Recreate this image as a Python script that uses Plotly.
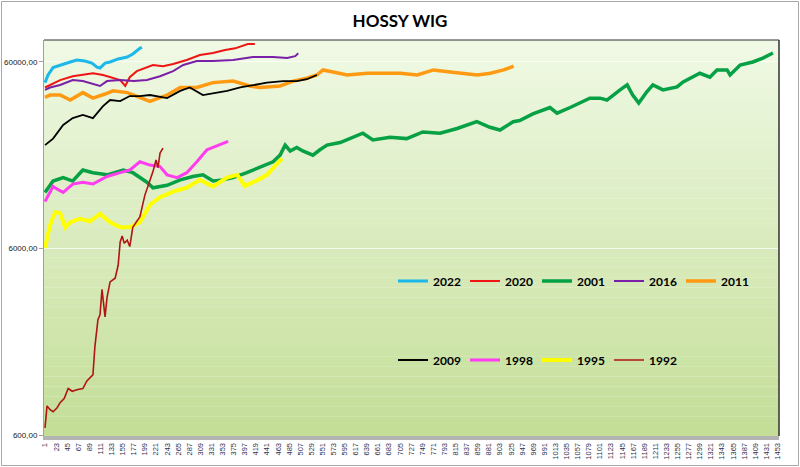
import plotly.graph_objects as go

# ---------------- data (session number, index value) ----------------
x_2022 = [1, 7, 17, 31, 51, 64, 80, 94, 104, 110, 120, 130, 146, 164, 175, 189, 193]
y_2022 = [46500, 51100, 56000, 57800, 60000, 61500, 60700, 59200, 56300, 55700, 59200, 60000, 62300, 63800, 66200, 71000, 72000]

x_2020 = [1, 11, 31, 56, 80, 96, 116, 136, 150, 160, 169, 183, 199, 215, 235, 255, 282, 308, 334, 358, 378, 393, 403, 417]
y_2020 = [43800, 45200, 48000, 50300, 51600, 52200, 51100, 49100, 48000, 44600, 49700, 53600, 55700, 57800, 57000, 58500, 61500, 65400, 67000, 69600, 71000, 73000, 74800, 74800]

x_2001 = [1, 17, 37, 56, 76, 96, 124, 156, 175, 203, 215, 243, 269, 294, 314, 334, 354, 374, 401, 427, 453, 467, 477, 487, 500,
          512, 532, 546, 560, 586, 605, 631, 651, 685, 718, 750, 784, 818, 857, 883, 903, 929, 942, 968, 1002, 1016, 1042,
          1067, 1081, 1101, 1115, 1141, 1155, 1166, 1178, 1194, 1206, 1226, 1254, 1266, 1299, 1319, 1333, 1353, 1359, 1379,
          1404, 1424, 1444]
y_2001 = [12000, 13800, 14400, 13800, 15800, 15300, 14900, 15800, 15300, 13600, 12700, 13100, 14000, 14600, 14900, 13800,
          14000, 14400, 15300, 16300, 17500, 19000, 21500, 20000, 20900, 20000, 19000, 20300, 21500, 22200, 23300, 24900,
          22900, 23700, 23300, 25300, 24900, 26400, 28700, 26800, 25900, 28700, 29100, 31600, 34200, 31900, 34200, 36900,
          38400, 38400, 37500, 42500, 45200, 39900, 36100, 41500, 45200, 42500, 44100, 46900, 52200, 49700, 54400, 54400,
          51100, 57800, 60000, 63000, 67000]

x_2016 = [1, 11, 31, 56, 76, 96, 110, 124, 150, 177, 203, 229, 255, 275, 302, 334, 374, 413, 453, 481, 497, 503]
y_2016 = [42500, 43800, 45200, 48000, 47400, 45800, 44600, 47400, 48000, 47400, 48000, 50300, 53600, 57800, 60700, 60700,
          61500, 63800, 63800, 63000, 64500, 66800]

x_2011 = [1, 11, 31, 51, 76, 96, 120, 136, 164, 190, 209, 243, 269, 302, 334, 374, 407, 427, 467, 493, 520, 540, 552, 572,
          600, 640, 671, 705, 739, 771, 804, 830, 858, 884, 910, 930]
y_2011 = [38800, 39900, 39900, 37500, 41100, 38400, 40400, 42000, 41100, 38400, 36900, 39900, 43800, 43800, 46500, 47400,
          44600, 43800, 44600, 47400, 49100, 51100, 54400, 53000, 51100, 52200, 52200, 52200, 51100, 54400, 53000, 52200,
          51100, 52200, 54400, 57000]

x_2009 = [1, 17, 37, 56, 76, 96, 116, 130, 150, 169, 189, 209, 243, 269, 288, 314, 342, 362, 388, 413, 441, 473, 500, 520, 540]
y_2009 = [21500, 23300, 27600, 30000, 31200, 30000, 34800, 37500, 37000, 39400, 39400, 39900, 38400, 42000, 43800, 39900,
          41100, 42000, 43800, 45200, 46500, 47400, 47400, 48500, 51100]

x_1998 = [1, 11, 17, 27, 37, 56, 76, 96, 124, 150, 169, 189, 209, 229, 243, 263, 282, 302, 322, 334, 354, 364]
y_1998 = [10700, 12000, 12900, 12400, 12000, 13300, 13600, 13300, 14600, 15300, 15800, 17500, 16800, 16500, 14900, 14400,
          15300, 17500, 20300, 20900, 22000, 22500]

x_1995 = [1, 11, 21, 31, 41, 51, 70, 90, 110, 130, 150, 169, 189, 199, 209, 229, 255, 282, 308, 334, 362, 382, 397, 421,
          441, 461, 471]
y_1995 = [6050, 8020, 9400, 9300, 7800, 8300, 8650, 8400, 9200, 8300, 7800, 7800, 8300, 9300, 10300, 11300, 12100, 12700,
          14000, 12900, 14400, 14900, 13000, 13900, 14900, 17100, 18200]

x_1992 = [1, 5, 11, 17, 25, 31, 39, 47, 55, 64, 76, 84, 96, 100, 106, 110, 114, 120, 124, 130, 140, 146, 150, 154, 158,
          164, 169, 175, 183, 189, 199, 209, 215, 221, 225, 229, 235]
y_1992 = [655, 860, 820, 800, 840, 895, 940, 1065, 1030, 1050, 1065, 1170, 1260, 1800, 2500, 2650, 3620, 2580, 3280, 3970,
          4160, 4880, 6500, 7000, 6400, 6650, 6150, 7800, 8400, 8850, 11600, 14000, 15500, 17900, 16300, 19500, 20700]

x_ticks = list(range(1, 1454, 22))
y_ticks = [600, 6000, 60000]

series = [
    ("2022", x_2022, y_2022, "#1db8ea", 3.0, "legend"),
    ("2020", x_2020, y_2020, "#f01414", 2.0, "legend"),
    ("2001", x_2001, y_2001, "#06a045", 3.5, "legend"),
    ("2016", x_2016, y_2016, "#7a1fa8", 2.0, "legend"),
    ("2011", x_2011, y_2011, "#ff9a12", 3.5, "legend"),
    ("2009", x_2009, y_2009, "#000000", 1.8, "legend2"),
    ("1998", x_1998, y_1998, "#ff3cf0", 3.0, "legend2"),
    ("1995", x_1995, y_1995, "#ffff00", 4.0, "legend2"),
    ("1992", x_1992, y_1992, "#b01414", 1.6, "legend2"),
]

fig = go.Figure()
for name, xs, ys, col, w, lg in series:
    fig.add_trace(go.Scatter(x=xs, y=ys, name=name, mode="lines",
                             line=dict(color=col, width=w), legend=lg))

# background gradient of the plot area
top = (239, 249, 228)
bot = (196, 222, 152)
n = 40
shapes = []
for i in range(n):
    t = i / (n - 1)
    c = tuple(int(round(top[k] + (bot[k] - top[k]) * t)) for k in range(3))
    shapes.append(dict(type="rect", xref="paper", yref="paper", x0=0, x1=1,
                       y0=1 - (i + 1) / n, y1=1 - i / n, layer="below",
                       fillcolor="rgb(%d,%d,%d)" % c, line=dict(width=0)))
# plot frame (top/right dark)
shapes.append(dict(type="line", xref="paper", yref="paper", x0=0, x1=1, y0=1, y1=1,
                   line=dict(color="#303030", width=1)))
shapes.append(dict(type="line", xref="paper", yref="paper", x0=1, x1=1, y0=0, y1=1,
                   line=dict(color="#303030", width=1.5)))
# outer chart border
shapes.append(dict(type="rect", xref="paper", yref="paper",
                   x0=(1.5 - 44) / 735, x1=(798.5 - 44) / 735,
                   y0=(436 - 465.5) / 396, y1=(436 - 1.5) / 396,
                   line=dict(color="#a8a8a8", width=1), fillcolor="rgba(0,0,0,0)", layer="below"))

legend_font = dict(family="Lato, 'Open Sans', sans-serif", size=12, color="#000000", weight="bold")

fig.update_layout(
    width=800, height=467,
    margin=dict(l=44, r=21, t=40, b=31, autoexpand=False),
    paper_bgcolor="white",
    plot_bgcolor="rgb(239,249,228)",
    separators=",.",
    title=dict(text="<b>HOSSY WIG</b>", x=0.5, xanchor="center", y=0.955, yanchor="middle",
               font=dict(family="Lato, 'Open Sans', sans-serif", size=17, color="#000000")),
    shapes=shapes,
    showlegend=True,
    legend=dict(orientation="h", x=(393 - 44) / 735, xanchor="left", y=(436 - 281) / 396, yanchor="middle",
                bgcolor="rgba(0,0,0,0)", font=legend_font, entrywidth=27, itemwidth=30,
                traceorder="normal"),
    legend2=dict(orientation="h", x=(393 - 44) / 735, xanchor="left", y=(436 - 360) / 396, yanchor="middle",
                 bgcolor="rgba(0,0,0,0)", font=legend_font, entrywidth=27, itemwidth=30,
                 traceorder="normal"),
    xaxis=dict(range=[-1, 1456], tickvals=x_ticks, ticktext=[str(v) for v in x_ticks], automargin=False,
               tickangle=-90, tickfont=dict(family="'Liberation Sans', Arial, sans-serif", size=7.5, color="#303050"),
               showgrid=False, zeroline=False, showline=True, linecolor="#b4b4b4", linewidth=4,
               ticks="", ticklen=0),
    yaxis=dict(type="log", range=[2.773, 4.896], tickvals=y_ticks, tickformat=".2f", automargin=False,
               tickfont=dict(family="'Liberation Sans', Arial, sans-serif", size=8, color="#202020"),
               showgrid=True, gridcolor="rgba(255,255,255,0.7)", gridwidth=1,
               zeroline=False, showline=True, linecolor="#a0a0a0", linewidth=1,
               ticks="outside", ticklen=4, tickcolor="#a0a0a0"),
)

fig.write_html("out.html")
